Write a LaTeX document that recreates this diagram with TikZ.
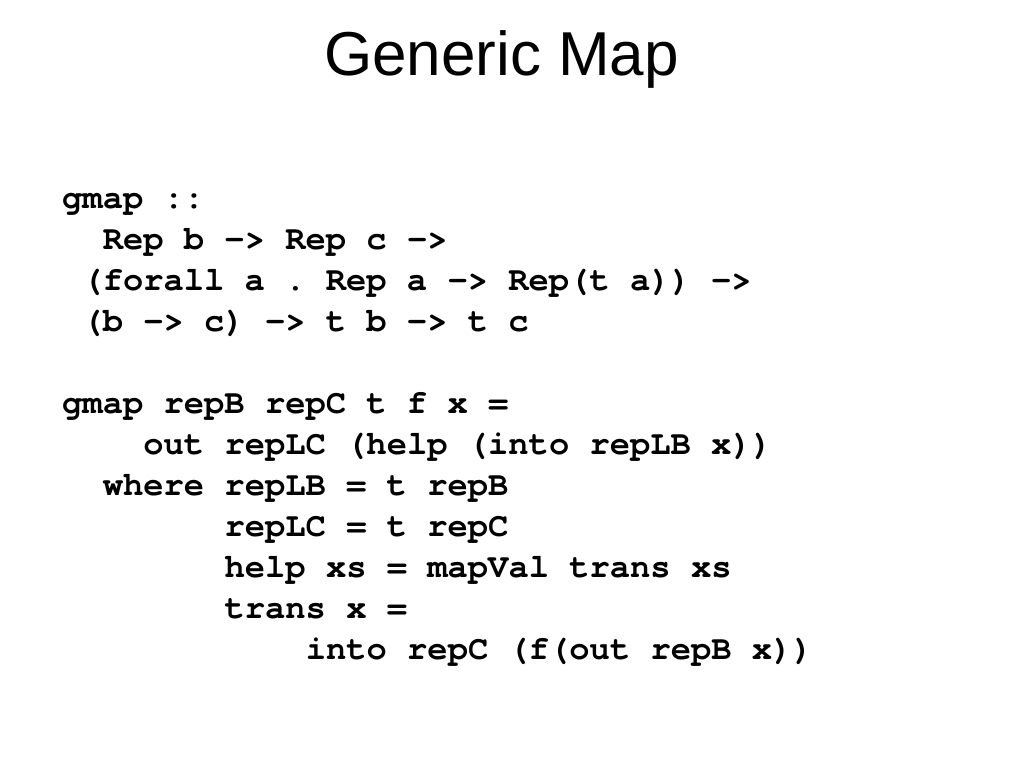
\documentclass[tikz,border=0pt]{standalone}
\usepackage{fontspec}
\setmainfont{Liberation Sans}
\setmonofont{TeX Gyre Cursor}

\tikzset{
  title/.style={anchor=base, inner sep=0pt, font=\fontsize{62}{70}\selectfont},
  code/.style={anchor=base west, inner sep=0pt, font=\fontsize{33.8}{41}\selectfont\ttfamily\bfseries}
}

\begin{document}
\begin{tikzpicture}[x=1pt,y=-1pt]
\useasboundingbox (0,0) rectangle (1024,768);
\node[title] (heading) at (501.5,75) {Generic Map};
% type signature
\node[code] (sigA) at (62,208) {gmap ::};
\node[code] (sigB) at (102.6,249) {Rep b -> Rep c ->};
\node[code] (sigC) at (82.3,290) {(forall a . Rep a -> Rep(t a)) ->};
\node[code] (sigD) at (82.3,331) {(b -> c) -> t b -> t c};
% definition
\node[code] (defA) at (62,413) {gmap repB repC t f x =};
\node[code] (defB) at (143.2,454) {out repLC (help (into repLB x))};
\node[code] (defC) at (102.6,495) {where repLB = t repB};
\node[code] (defD) at (224.4,536) {repLC = t repC};
\node[code] (defE) at (224.4,577) {help xs = mapVal trans xs};
\node[code] (defF) at (224.4,618) {trans x =};
\node[code] (defG) at (305.6,659) {into repC (f(out repB x))};
\end{tikzpicture}
\end{document}
